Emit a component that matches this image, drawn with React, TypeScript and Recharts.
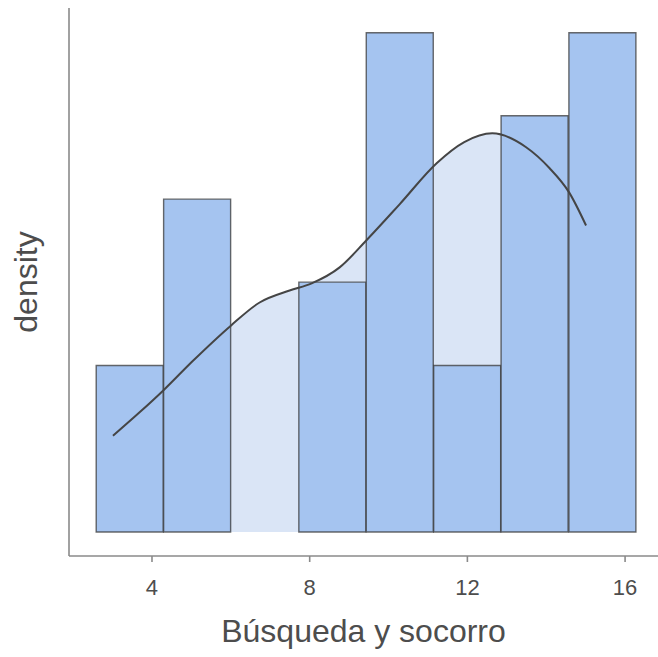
import React from 'react';
import { ComposedChart, Bar, Area, Line, XAxis, YAxis } from 'recharts';

// histogram bins (centre of bin) and their density heights
const binCenters = [3.44, 5.15, 6.86, 8.58, 10.29, 12.0, 13.71, 15.43];
const binDensity = [0.0417, 0.0834, 0, 0.0626, 0.1251, 0.0417, 0.1043, 0.1251];

// kernel density curve
const kdeX = [3.01, 3.7, 4.28, 5.04, 6.0, 6.73, 7.49, 8.05, 8.76, 9.44, 10.28, 11.22, 11.92, 12.63, 13.49, 14.08, 14.58, 15.01];
const kdeY = [0.0241, 0.0301, 0.0354, 0.0429, 0.0517, 0.0575, 0.0605, 0.0623, 0.0663, 0.0731, 0.0821, 0.0924, 0.0977, 0.0999, 0.0964, 0.0912, 0.0851, 0.0768];

const xTicks = [4, 8, 12, 16];
const xDomain = [1.895, 16.835];

const bins = binCenters.map((x, i) => ({ x, density: binDensity[i] }));
const kde = kdeX.map((x, i) => ({ x, kde: kdeY[i] }));

const FONT = '"Liberation Sans", Arial, sans-serif';
const AXIS = '#8a8a8a';

export default function App() {
  return (
    <div style={{ position: 'absolute', left: 0, top: 0, fontFamily: FONT }}>
      <ComposedChart
        width={658}
        height={657}
        data={bins}
        margin={{ top: 8, right: 0, left: 0, bottom: 0 }}
        barCategoryGap={0}
        barGap={0}
      >
        <XAxis
          dataKey="x"
          type="number"
          domain={xDomain}
          ticks={xTicks}
          allowDataOverflow
          height={101}
          stroke={AXIS}
          strokeWidth={1.6}
          tickSize={6}
          tickMargin={17}
          tick={{ fill: '#4d4d4d', fontSize: 22, fontFamily: FONT }}
          label={{
            value: 'Búsqueda y socorro',
            position: 'insideBottom',
            offset: 15,
            fill: '#4d4d4d',
            fontSize: 32,
            fontFamily: FONT,
          }}
        />
        {/* same scale, separate axis so the curve points don't shrink the bars */}
        <XAxis xAxisId="kde" dataKey="x" type="number" domain={xDomain} allowDataOverflow hide />
        <YAxis
          type="number"
          domain={[-0.00603, 0.1313]}
          allowDataOverflow
          width={69}
          stroke={AXIS}
          strokeWidth={1.6}
          tick={false}
          tickLine={false}
          label={{
            value: 'density',
            angle: -90,
            position: 'insideLeft',
            offset: 26,
            fill: '#4d4d4d',
            fontSize: 32,
            fontFamily: FONT,
            style: { textAnchor: 'middle' },
          }}
        />
        <Area
          xAxisId="kde"
          data={kde}
          dataKey="kde"
          type="monotone"
          baseValue={0}
          fill="#dae5f6"
          fillOpacity={1}
          stroke="none"
          isAnimationActive={false}
        />
        <Bar
          dataKey="density"
          fill="#a5c4f0"
          stroke="#3a3a3a"
          strokeOpacity={0.75}
          strokeWidth={1.4}
          isAnimationActive={false}
        />
        <Line
          xAxisId="kde"
          data={kde}
          dataKey="kde"
          type="monotone"
          stroke="#454545"
          strokeWidth={2}
          dot={false}
          activeDot={false}
          isAnimationActive={false}
        />
      </ComposedChart>
    </div>
  );
}
